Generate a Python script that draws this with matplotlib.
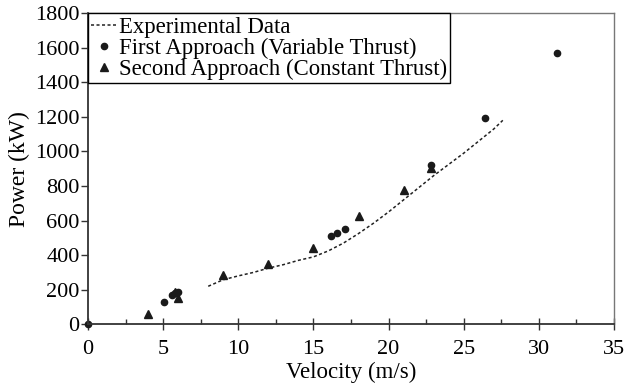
import matplotlib.pyplot as plt
from matplotlib.ticker import MultipleLocator

plt.rcParams['font.family'] = ['Liberation Serif', 'DejaVu Serif']
plt.rcParams['font.size'] = 16

# experimental curve
exp_v = [8, 9, 10, 11, 12, 13, 14, 15, 16, 17, 18, 19, 20, 21, 22, 23, 24, 25, 26, 27, 27.6]
exp_p = [220, 258, 280, 300, 325, 345, 370, 390, 425, 470, 525, 585, 650, 720, 790, 860, 925, 990, 1060, 1130, 1180]

# first approach (variable thrust)
first_v = [0, 5.05, 5.6, 5.8, 6.0, 16.2, 16.55, 17.1, 22.8, 26.4, 31.2]
first_p = [0, 131, 170, 180, 188, 511, 527, 551, 922, 1196, 1568]

# second approach (constant thrust)
second_v = [4.0, 5.8, 6.0, 9.0, 12.0, 15.0, 18.0, 21.0, 22.8]
second_p = [62, 185, 154, 285, 347, 440, 628, 777, 905]

fig = plt.figure(figsize=(6.24, 3.87), dpi=100)
ax = fig.add_axes([0.141, 0.162, 0.843, 0.804])

ax.plot(exp_v, exp_p, linestyle=(0, (2, 1.6)), color='#222222', linewidth=1.1,
        label='Experimental Data')
ax.plot(first_v, first_p, 'o', color='#1a1a1a', markersize=4.5, linestyle='none',
        clip_on=False, label='First Approach (Variable Thrust)')
ax.plot(second_v, second_p, '^', color='#1a1a1a', markersize=5.5, linestyle='none',
        clip_on=False, label='Second Approach (Constant Thrust)')

ax.set_xlim(0, 35)
ax.set_ylim(0, 1800)
ax.xaxis.set_major_locator(MultipleLocator(5))
ax.xaxis.set_minor_locator(MultipleLocator(2.5))
ax.yaxis.set_major_locator(MultipleLocator(200))

ax.tick_params(axis='x', which='major', direction='inout', length=8, width=1, color='#333333', pad=7)
ax.tick_params(axis='x', which='minor', direction='in', length=3.5, width=1, color='#333333')
ax.tick_params(axis='y', which='major', direction='out', length=5, width=1, color='#333333', pad=1)

for side in ['left', 'bottom']:
    ax.spines[side].set_color('#333333')
    ax.spines[side].set_linewidth(1.3)
for side in ['top', 'right']:
    ax.spines[side].set_color('#777777')
    ax.spines[side].set_linewidth(1.0)

ax.set_xlabel('Velocity (m/s)', labelpad=2, fontsize=16.5)
ax.set_ylabel('Power (kW)', labelpad=4, fontsize=17)

leg = ax.legend(loc='upper left', bbox_to_anchor=(0, 1), borderaxespad=0,
                frameon=True, fancybox=False, edgecolor='black', framealpha=1,
                handlelength=1.1, handletextpad=0.1, labelspacing=0.0,
                borderpad=0.15, fontsize=16.4)
leg.get_frame().set_linewidth(1.0)

fig.savefig('out.png', dpi=100)
